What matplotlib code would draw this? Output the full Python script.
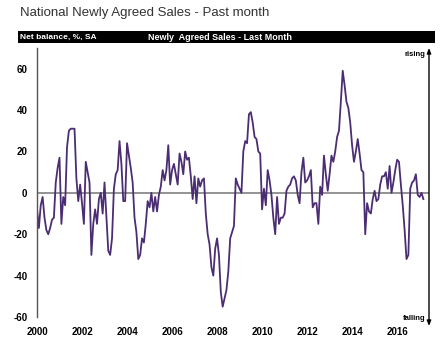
import matplotlib
matplotlib.use('Agg')
import matplotlib.pyplot as plt
import numpy as np
from matplotlib.patches import Rectangle, FancyArrowPatch

# Monthly net balance values (%, SA), Jan 2000 onwards
v2000 = [-8, -17, -6, -2, -12, -18, -20, -17, -13, -12, 5, 12]
v2001 = [17, -15, -2, -6, 22, 30, 31, 31, 31, 7, -4, 4]
v2002 = [-5, -15, 15, 10, 5, -30, -15, -8, -15, -3, 0, -10]
v2003 = [5, -12, -28, -30, -22, 2, 9, 11, 25, 14, -4, -4]
v2004 = [24, 18, 12, 5, -12, -19, -32, -30, -22, -24, -15, -4]
v2005 = [-7, 0, -9, -2, -9, -1, 3, 11, 6, 11, 23, 4]
v2006 = [11, 14, 9, 4, 19, 15, 9, 20, 16, 17, 8, -3]
v2007 = [8, -5, 7, 3, 6, 7, -10, -20, -25, -36, -40, -27]
v2008 = [-22, -30, -48, -55, -51, -47, -38, -22, -19, -16, 7, 4]
v2009 = [2, 0, 20, 25, 24, 38, 39, 34, 27, 26, 20, 19]
v2010 = [-8, 2, -6, 11, 6, -1, -12, -20, -2, -15, -12, -12]
v2011 = [-10, 1, 3, 4, 7, 8, 6, -1, -5, 10, 17, 5]
v2012 = [6, 8, 11, -7, -5, -5, -15, 3, -1, 18, 9, 1]
v2013 = [9, 18, 15, 20, 27, 30, 44, 59, 52, 44, 41, 34]
v2014 = [23, 15, 20, 26, 19, 11, 10, -20, -5, -9, -10, -3]
v2015 = [1, -4, -3, 4, 8, 8, 10, 2, 13, 0, 5, 11]
v2016 = [16, 15, 4, -6, -18, -32, -30, 2, 5, 6, 9, -1]
v2017 = [-2, 0, -3]

start_year = 2000
x_ticks = [2000, 2002, 2004, 2006, 2008, 2010, 2012, 2014, 2016]
y_ticks = [-60, -40, -20, 0, 20, 40, 60]

title = 'National Newly Agreed Sales - Past month'
bar_left = 'Net balance, %, SA'
bar_mid = 'Newly  Agreed Sales - Last Month'

values = np.array(v2000 + v2001 + v2002 + v2003 + v2004 + v2005 + v2006 + v2007 +
                  v2008 + v2009 + v2010 + v2011 + v2012 + v2013 + v2014 + v2015 +
                  v2016 + v2017, dtype=float)
dates = start_year + np.arange(len(values)) / 12.0

W, H = 444, 352
fig = plt.figure(figsize=(W / 100, H / 100), dpi=100)
fig.patch.set_facecolor('white')

def fx(px):
    return px / W

def fy(py):
    return 1 - py / H

ax = fig.add_axes([fx(37), fy(317), fx(429) - fx(37), fy(48) - fy(317)])
ax.axhline(0, color='#8a8a8a', lw=1.3, zorder=1)
ax.plot(dates, values, color='#4b2d73', lw=1.3, zorder=2, solid_joinstyle='round')
ax.set_xlim(start_year, start_year + 209 / 12)
ax.set_ylim(-60, 70)

for s in ['top', 'right', 'bottom']:
    ax.spines[s].set_visible(False)
ax.spines['left'].set_color('#555555')
ax.spines['left'].set_linewidth(1.0)

lab_font = ['Liberation Sans Narrow', 'Liberation Sans', 'DejaVu Sans']
ax.set_yticks(y_ticks)
ax.set_yticklabels([str(v) for v in y_ticks], fontsize=7, fontweight='bold', family=lab_font)
ax.set_xticks(x_ticks)
ax.set_xticklabels([str(v) for v in x_ticks], fontsize=7, fontweight='bold', family=lab_font)
ax.tick_params(axis='both', length=0)
ax.tick_params(axis='y', pad=7)
ax.tick_params(axis='x', pad=7)

# Title
fig.text(fx(20), fy(13), title, fontsize=9.5, color='#333333', va='center', ha='left',
         family=['Liberation Sans', 'DejaVu Sans'])

# Black header bar
fig.patches.append(Rectangle((fx(18), fy(43)), fx(435) - fx(18), fy(31) - fy(43),
                             transform=fig.transFigure, facecolor='black', edgecolor='none'))
fig.text(fx(20), fy(37), bar_left, fontsize=6.0, color='white', fontweight='bold',
         va='center', ha='left', family=lab_font)
fig.text(fx(148), fy(37), bar_mid, fontsize=6.5, color='white', fontweight='bold',
         va='center', ha='left', family=lab_font)

# Right-hand rising/falling axis
arr = FancyArrowPatch((fx(429), fy(326)), (fx(429), fy(48)), transform=fig.transFigure,
                      arrowstyle='<|-|>,head_length=3,head_width=1.2', color='black', lw=1.0,
                      shrinkA=0, shrinkB=0)
fig.add_artist(arr)
fig.text(fx(425), fy(54), 'rising', fontsize=5.5, fontweight='bold', ha='right', va='center',
         family=lab_font)
fig.text(fx(425), fy(318), 'falling', fontsize=5.5, fontweight='bold', ha='right', va='center',
         family=lab_font)

fig.savefig('out.png', dpi=100)
